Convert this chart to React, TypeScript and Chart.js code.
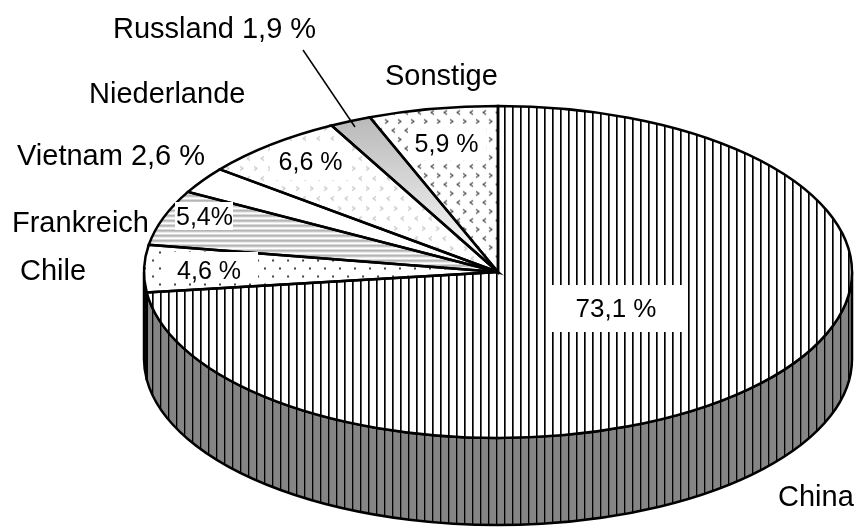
import React, { useEffect, useRef } from 'react';
import { Chart, registerables } from 'chart.js';

Chart.register(...registerables);

// ---- data ----
const categories = ['China', 'Chile', 'Frankreich', 'Vietnam', 'Niederlande', 'Russland', 'Sonstige'];
const shares = [73.1, 4.6, 5.4, 2.6, 6.6, 1.9, 5.9];
const sliceLabels = ['73,1 %', '4,6 %', '5,4%', '', '6,6 %', '', '5,9 %'];
const nameLabels = ['China', 'Chile', 'Frankreich', 'Vietnam 2,6 %', 'Niederlande', 'Russland 1,9 %', 'Sonstige'];

// ---- layout / style ----
const FONT = '"Liberation Sans", Arial, Helvetica, sans-serif';
const RADIUS = 354;
const TILT = 166 / 354;
const DEPTH = 87;

// inside labels: [textX, baselineY, boxLeft, boxTop, boxW, boxH] relative to pie centre
const INSIDE_POS: (number[] | null)[] = [
  [118, 45, 54, 13, 130, 47],
  [-289, 7, -335, -20, 95, 31],
  [-293.5, -47, -323, -70, 58, 28],
  null,
  [-187.5, -102, -228, -126, 82, 34],
  null,
  [-51.5, -120, -90, -148, 78, 36],
];
// outside labels: [leftX, baselineY] relative to pie centre
const OUTSIDE_POS = [
  [280, 234],
  [-478, 8],
  [-486, -40],
  [-481, -107],
  [-409, -169],
  [-385, -234],
  [-113, -187],
];
const LEADER = [-195, -222, -143, -145];

function makeTile(w: number, h: number, draw: (g: CanvasRenderingContext2D) => void) {
  const c = document.createElement('canvas');
  c.width = w;
  c.height = h;
  const g = c.getContext('2d')!;
  draw(g);
  return c;
}

function chevrons(g: CanvasRenderingContext2D, color: string, pts: [number, number, boolean][]) {
  g.strokeStyle = color;
  g.lineWidth = 1.1;
  pts.forEach(([x, y, right]) => {
    g.beginPath();
    if (right) {
      g.moveTo(x, y);
      g.lineTo(x + 3, y + 2);
      g.lineTo(x, y + 4);
    } else {
      g.moveTo(x + 3, y);
      g.lineTo(x, y + 2);
      g.lineTo(x + 3, y + 4);
    }
    g.stroke();
  });
}

export default function App() {
  const ref = useRef<HTMLCanvasElement | null>(null);

  useEffect(() => {
    const canvas = ref.current!;
    const ctx = canvas.getContext('2d')!;
    const unscale = new DOMMatrix().scale(1, 1 / TILT);

    const pat = (c: HTMLCanvasElement, scaled: boolean) => {
      const p = ctx.createPattern(c, 'repeat')!;
      if (scaled && (p as any).setTransform) p.setTransform(unscale);
      return p;
    };

    const stripesTop = makeTile(8, 4, (g) => {
      g.fillStyle = '#fff';
      g.fillRect(0, 0, 8, 4);
      g.fillStyle = '#000';
      g.fillRect(0, 0, 1, 4);
      g.fillStyle = '#555';
      g.fillRect(1, 0, 1, 4);
    });
    const stripesSide = makeTile(8, 4, (g) => {
      g.fillStyle = '#858585';
      g.fillRect(0, 0, 8, 4);
      g.fillStyle = '#000';
      g.fillRect(0, 0, 1, 4);
      g.fillStyle = '#5a5a5a';
      g.fillRect(1, 0, 1, 4);
    });
    const dots = makeTile(15, 16, (g) => {
      g.fillStyle = '#fff';
      g.fillRect(0, 0, 15, 16);
      g.fillStyle = '#444';
      g.fillRect(2, 3, 2, 2);
      g.fillRect(9, 11, 2, 2);
    });
    const hstripes = makeTile(4, 5, (g) => {
      g.fillStyle = '#fff';
      g.fillRect(0, 0, 4, 5);
      g.fillStyle = '#b4b4b4';
      g.fillRect(0, 0, 4, 2);
      g.fillStyle = '#d8d8d8';
      g.fillRect(0, 2, 4, 1);
    });
    const lightChev = makeTile(14, 20, (g) => {
      g.fillStyle = '#fff';
      g.fillRect(0, 0, 14, 20);
      chevrons(g, '#c4c4c4', [[2, 2, true], [9, 12, false]]);
    });
    const darkChev = makeTile(13, 18, (g) => {
      g.fillStyle = '#fff';
      g.fillRect(0, 0, 13, 18);
      chevrons(g, '#444', [[2, 2, false], [8, 11, true]]);
    });

    const fills: any[] = [
      pat(stripesTop, true),
      pat(dots, true),
      pat(hstripes, true),
      '#ffffff',
      pat(lightChev, true),
      null,
      pat(darkChev, true),
    ];
    const sideFills: any[] = [pat(stripesSide, false), '#202020', '#202020', '#202020', '#202020', '#202020', '#202020'];

    const pie3d = {
      id: 'pie3d',
      beforeDatasetsDraw(chart: any) {
        const c = chart.ctx as CanvasRenderingContext2D;
        const arcs = chart.getDatasetMeta(0).data;
        const cx = arcs[0].x;
        const cy = arcs[0].y;
        const rx = arcs[0].outerRadius;
        const ry = rx * TILT;
        c.save();
        arcs.forEach((arc: any, i: number) => {
          const s = arc.startAngle;
          const e = arc.endAngle;
          [-2 * Math.PI, 0, 2 * Math.PI].forEach((off) => {
            const lo = Math.max(s, off);
            const hi = Math.min(e, off + Math.PI);
            if (hi <= lo) return;
            c.beginPath();
            c.ellipse(cx, cy, rx, ry, 0, lo, hi, false);
            c.ellipse(cx, cy + DEPTH, rx, ry, 0, hi, lo, true);
            c.closePath();
            c.fillStyle = sideFills[i];
            c.fill();
            c.lineWidth = 2.5;
            c.strokeStyle = '#000';
            c.lineJoin = 'round';
            c.stroke();
          });
        });
        c.restore();
        c.save();
        c.translate(0, cy);
        c.scale(1, TILT);
        c.translate(0, -cy);
      },
      afterDatasetsDraw(chart: any) {
        const c = chart.ctx as CanvasRenderingContext2D;
        c.restore();
        const arcs = chart.getDatasetMeta(0).data;
        const cx = arcs[0].x;
        const cy = arcs[0].y;
        const rx = arcs[0].outerRadius;
        const ry = rx * TILT;
        c.save();
        c.strokeStyle = '#000';
        c.lineWidth = 2.5;
        c.lineJoin = 'miter';
        arcs.forEach((arc: any) => {
          c.beginPath();
          c.moveTo(cx, cy);
          c.ellipse(cx, cy, rx, ry, 0, arc.startAngle, arc.endAngle, false);
          c.closePath();
          c.stroke();
        });
        // inside labels
        c.textAlign = 'center';
        c.textBaseline = 'alphabetic';
        sliceLabels.forEach((t, i) => {
          const p = INSIDE_POS[i];
          if (!t || !p) return;
          c.fillStyle = '#fff';
          c.fillRect(cx + p[2], cy + p[3], p[4], p[5]);
          c.fillStyle = '#000';
          c.font = `${i === 0 ? 26 : 25}px ${FONT}`;
          c.fillText(t, cx + p[0], cy + p[1]);
        });
        // outside labels
        c.font = `29px ${FONT}`;
        c.textAlign = 'left';
        nameLabels.forEach((t, i) => {
          const p = OUTSIDE_POS[i];
          c.fillStyle = '#000';
          c.fillText(t, cx + p[0], cy + p[1]);
        });
        // leader line for Russland
        c.beginPath();
        c.moveTo(cx + LEADER[0], cy + LEADER[1]);
        c.lineTo(cx + LEADER[2], cy + LEADER[3]);
        c.lineWidth = 1.5;
        c.stroke();
        c.restore();
      },
    };

    const chart = new Chart(canvas, {
      type: 'pie',
      data: {
        labels: categories,
        datasets: [
          {
            data: shares,
            backgroundColor: (context: any) => {
              const i = context.dataIndex;
              if (i === 5) {
                const area = context.chart.chartArea;
                if (!area) return '#c8c8c8';
                const cy = (area.top + area.bottom) / 2;
                const g = context.chart.ctx.createLinearGradient(0, cy - RADIUS, 0, cy);
                g.addColorStop(0, '#b4b4b4');
                g.addColorStop(1, '#ffffff');
                return g;
              }
              return fills[i] ?? '#ffffff';
            },
            borderWidth: 0,
            radius: RADIUS,
            clip: false,
          } as any,
        ],
      },
      options: {
        responsive: true,
        maintainAspectRatio: false,
        animation: false,
        events: [],
        radius: RADIUS,
        layout: { padding: { left: 138, right: 0, top: 17, bottom: 0 } },
        plugins: { legend: { display: false }, tooltip: { enabled: false } },
      } as any,
      plugins: [pie3d],
    });

    return () => chart.destroy();
  }, []);

  return (
    <div style={{ position: 'absolute', left: 0, top: 0, width: 858, height: 527, background: '#fff' }}>
      <canvas ref={ref} />
    </div>
  );
}
